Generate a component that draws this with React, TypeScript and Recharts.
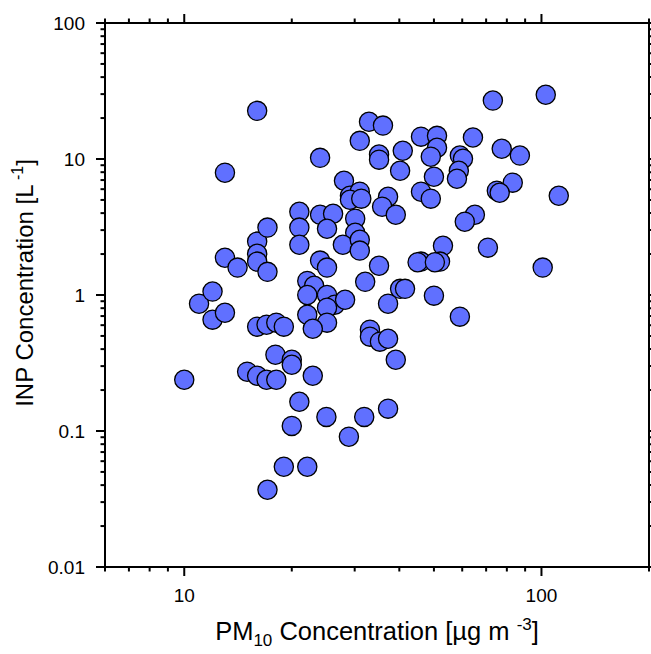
import { ScatterChart, Scatter, XAxis, YAxis, Label } from "recharts";

// PM10 (µg m-3) and INP (L-1) pairs
const pm10 = [
  10, 11.0, 12.0, 12.0, 13.0, 13.0, 13.0, 14.1, 16.0, 16.0,
  16.0, 16.0, 17.1, 17.1, 16.0, 17.0, 18.1, 19.0, 18.0, 20.0,
  20.0, 15.0, 16.0, 17.0, 18.1, 22.9, 21.0, 20.0, 25.0, 28.9,
  31.9, 37.2, 19.0, 22.1, 17.1, 21.0, 21.0, 21.0, 24.0, 24.0,
  26.1, 25.1, 30.1, 30.1, 27.8, 31.0, 31.0, 24.0, 25.1, 22.1,
  23.1, 22.1, 25.1, 26.4, 28.2, 25.1, 22.1, 25.1, 22.9, 28.0,
  29.1, 31.0, 29.1, 31.3, 31.0, 32.9, 36.0, 35.1, 35.1, 40.9,
  40.2, 46.0, 51.0, 51.0, 49.0, 50.0, 37.2, 35.8, 39.1, 46.0,
  49.0, 53.0, 46.0, 52.0, 35.1, 32.1, 40.2, 41.5, 50.0, 37.2,
  59.1, 33.1, 33.1, 35.3, 37.2, 39.1, 73.1, 102.8, 64.3, 77.4,
  87.0, 59.1, 60.3, 58.7, 58.0, 83.1, 75.0, 76.4, 111.8, 65.1,
  61.0, 70.8, 100.8, 45.0, 50.3,
];

const inp = [
  0.238, 0.863, 1.06, 0.659, 7.93, 1.88, 0.741, 1.59, 22.6, 2.47,
  2.01, 1.76, 3.13, 1.48, 0.585, 0.605, 0.626, 0.585, 0.364, 0.334,
  0.307, 0.273, 0.255, 0.238, 0.238, 0.255, 0.164, 0.109, 0.127, 0.0908,
  0.127, 0.146, 0.0546, 0.0546, 0.037, 4.09, 3.13, 2.34, 10.2, 3.89,
  3.96, 3.07, 3.64, 2.87, 2.34, 2.55, 2.12, 1.79, 1.59, 1.27,
  1.17, 1.0, 1.0, 0.849, 0.923, 0.807, 0.716, 0.626, 0.565, 6.92,
  5.37, 5.75, 5.02, 5.11, 13.6, 18.8, 17.6, 10.8, 9.89, 11.5,
  8.2, 14.6, 14.8, 12.1, 10.4, 7.41, 5.28, 4.46, 3.89, 5.75,
  5.11, 2.3, 1.76, 1.76, 1.64, 1.25, 1.11, 1.11, 0.989, 0.863,
  0.693, 0.556, 0.494, 0.454, 0.477, 0.334, 26.9, 29.7, 14.4, 11.9,
  10.6, 10.6, 10.05, 8.2, 7.16, 6.7, 5.85, 5.65, 5.37, 3.89,
  3.46, 2.23, 1.59, 1.74, 1.74,
];

const xMajor = [10, 100];
const xMinor = [6, 7, 8, 9, 20, 30, 40, 50, 60, 70, 80, 90, 200];
const yMajor = [0.01, 0.1, 1, 10, 100];
const yMinor = [
  0.02, 0.03, 0.04, 0.05, 0.06, 0.07, 0.08, 0.09,
  0.2, 0.3, 0.4, 0.5, 0.6, 0.7, 0.8, 0.9,
  2, 3, 4, 5, 6, 7, 8, 9,
  20, 30, 40, 50, 60, 70, 80, 90,
];

const xTicks = [...xMinor, ...xMajor].sort((a, b) => a - b);
const yTicks = [...yMinor, ...yMajor].sort((a, b) => a - b);

const data = pm10.map((pm, i) => ({ pm, inp: inp[i] }));

const FONT = '"Liberation Sans", Arial, Helvetica, sans-serif';
const MAJOR_LEN = 9;
const MINOR_LEN = 4.5;
const TICK_COLOR = "#000";
const axisLine = { stroke: "#000", strokeWidth: 2 };

const isMajor = (list: number[], v: number) => list.some((m) => Math.abs(m - v) < 1e-9);

const renderXTick = (side: "bottom" | "top") => (p: any) => {
  const x = Number(p.x);
  const y = Number(p.y);
  const major = isMajor(xMajor, Number(p.payload.value));
  const len = major ? MAJOR_LEN : MINOR_LEN;
  const y2 = side === "bottom" ? y + len : y - len;
  return (
    <g>
      <path d={`M${x},${y}L${x},${y2}`} stroke={TICK_COLOR} strokeWidth={2} fill="none" />
      {major && side === "bottom" && (
        <text x={x} y={y + 35} textAnchor="middle" fontSize={19} fontFamily={FONT} fill="#000">
          {p.payload.value}
        </text>
      )}
    </g>
  );
};

const renderYTick = (side: "left" | "right") => (p: any) => {
  const x = Number(p.x);
  const y = Number(p.y);
  const major = isMajor(yMajor, Number(p.payload.value));
  const len = major ? MAJOR_LEN : MINOR_LEN;
  const x2 = side === "left" ? x - len : x + len;
  return (
    <g>
      <path d={`M${x},${y}L${x2},${y}`} stroke={TICK_COLOR} strokeWidth={2} fill="none" />
      {major && side === "left" && (
        <text x={x - 20} y={y} dy="0.35em" textAnchor="end" fontSize={19} fontFamily={FONT} fill="#000">
          {p.payload.value}
        </text>
      )}
    </g>
  );
};

const XTitle = ({ viewBox }: any) => {
  const cx = viewBox.x + viewBox.width / 2;
  const y = viewBox.y + 73;
  return (
    <text x={cx} y={y} textAnchor="middle" fontSize={25.5} fontFamily={FONT} fill="#000">
      PM
      <tspan fontSize={17} dy={6}>10</tspan>
      <tspan dy={-6}> Concentration [µg m </tspan>
      <tspan fontSize={17} dy={-10}>-3</tspan>
      <tspan dy={10}>]</tspan>
    </text>
  );
};

const YTitle = ({ viewBox }: any) => {
  const cx = viewBox.x + 13;
  const cy = viewBox.y + viewBox.height / 2 - 12;
  return (
    <text
      x={cx}
      y={cy}
      transform={`rotate(-90, ${cx}, ${cy})`}
      textAnchor="middle"
      fontSize={24}
      fontFamily={FONT}
      fill="#000"
    >
      INP Concentration [L
      <tspan fontSize={16} dy={-10}> -1</tspan>
      <tspan dy={10}>]</tspan>
    </text>
  );
};

const Dot = (p: any) => (
  <circle cx={p.cx} cy={p.cy} r={9.6} fill="#6070ff" stroke="#000" strokeWidth={1.3} />
);

const NoDot = () => <g />;

export default function App() {
  return (
    <div style={{ position: "absolute", left: 0, top: 0, background: "#fff" }}>
      <ScatterChart width={651} height={654} margin={{ top: 22, right: 1, bottom: 37, left: 20 }}>
        <XAxis
          xAxisId="b"
          orientation="bottom"
          type="number"
          dataKey="pm"
          scale="log"
          domain={[6, 200]}
          allowDataOverflow
          ticks={xTicks}
          interval={0}
          height={50}
          tickSize={0}
          tickMargin={0}
          tickLine={false}
          axisLine={axisLine}
          tick={renderXTick("bottom")}
        >
          <Label content={<XTitle />} />
        </XAxis>
        <XAxis
          xAxisId="t"
          orientation="top"
          type="number"
          dataKey="pm"
          scale="log"
          domain={[6, 200]}
          allowDataOverflow
          ticks={xTicks}
          interval={0}
          height={1}
          tickSize={0}
          tickMargin={0}
          tickLine={false}
          axisLine={axisLine}
          tick={renderXTick("top")}
        />
        <YAxis
          yAxisId="l"
          orientation="left"
          type="number"
          dataKey="inp"
          scale="log"
          domain={[0.01, 100]}
          allowDataOverflow
          ticks={yTicks}
          interval={0}
          width={85}
          tickSize={0}
          tickMargin={0}
          tickLine={false}
          axisLine={axisLine}
          tick={renderYTick("left")}
        >
          <Label content={<YTitle />} />
        </YAxis>
        <YAxis
          yAxisId="r"
          orientation="right"
          type="number"
          dataKey="inp"
          scale="log"
          domain={[0.01, 100]}
          allowDataOverflow
          ticks={yTicks}
          interval={0}
          width={1}
          tickSize={0}
          tickMargin={0}
          tickLine={false}
          axisLine={axisLine}
          tick={renderYTick("right")}
        />
        <Scatter data={data} xAxisId="t" yAxisId="r" shape={<NoDot />} isAnimationActive={false} />
        <Scatter data={data} xAxisId="b" yAxisId="l" shape={<Dot />} isAnimationActive={false} />
      </ScatterChart>
    </div>
  );
}
